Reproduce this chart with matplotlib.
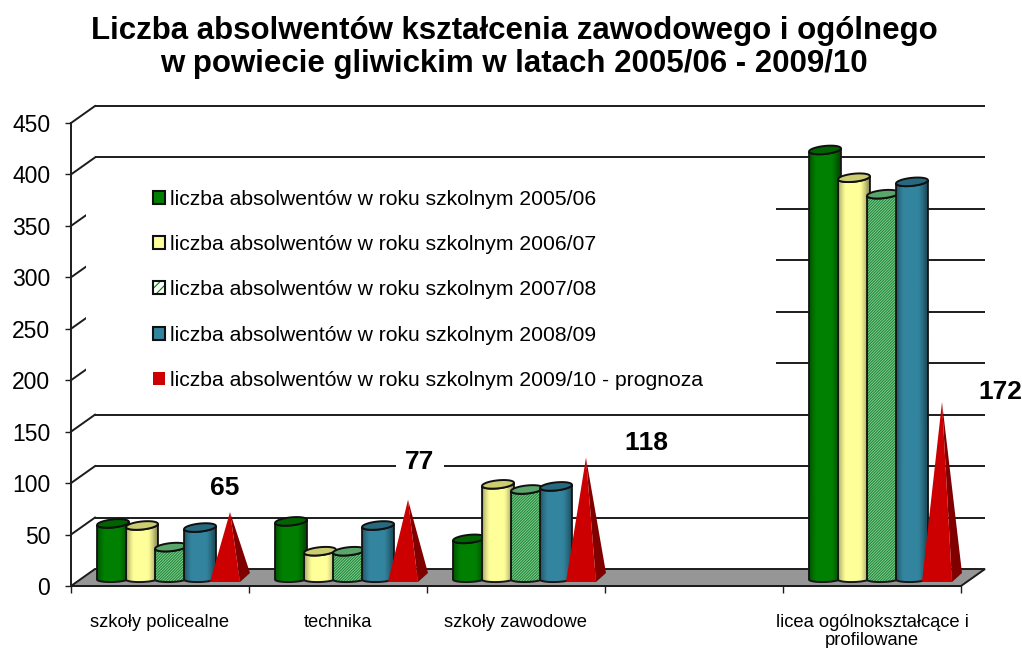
"""Liczba absolwentow - wykres 3D (walce + ostroslupy) w zwyklym matplotlib."""
import matplotlib
matplotlib.use("Agg")
import matplotlib.pyplot as plt
import numpy as np
from matplotlib.colors import to_rgb, to_rgba
from matplotlib.patches import Patch, Polygon, Rectangle

plt.rcParams["font.family"] = ["Liberation Sans", "DejaVu Sans"]
plt.rcParams["hatch.linewidth"] = 0.8
plt.rcParams["text.kerning_factor"] = 6

categories = ["szkoły policealne", "technika", "szkoły zawodowe", "",
              "licea ogólnokształcące i\nprofilowane"]
y_2005 = [54, 56, 39, np.nan, 417]
y_2006 = [52, 27, 92, np.nan, 390]
y_2007 = [31, 27, 87, np.nan, 374]
y_2008 = [50, 52, 90, np.nan, 386]
y_2009 = [65, 77, 118, np.nan, 172]
y_ticks = [0, 50, 100, 150, 200, 250, 300, 350, 400, 450]
legend_labels = [
    "liczba absolwentów w roku szkolnym 2005/06",
    "liczba absolwentów w roku szkolnym 2006/07",
    "liczba absolwentów w roku szkolnym 2007/08",
    "liczba absolwentów w roku szkolnym 2008/09",
    "liczba absolwentów w roku szkolnym 2009/10 - prognoza",
]

W, H = 1022, 648
AX_L, AX_R, AX_T, AX_B = 71, 961, 123, 586
PX_X = (AX_R - AX_L) / 5.0
PX_Y = (AX_B - AX_T) / 450.0
DX, DY = 24 / PX_X, 17 / PX_Y     # glebokosc "sciany"
BASE = 7 / PX_Y                   # podstawa walcow nad przednia krawedzia
LINE = "#1c1c1c"
HATCH_BG = "#8fcf98"

fig = plt.figure(figsize=(W / 100, H / 100), dpi=100)
ax = fig.add_axes([AX_L / W, 1 - AX_B / H, (AX_R - AX_L) / W, (AX_B - AX_T) / H])
ax.set_xlim(0, 5)
ax.set_ylim(0, 450)
ax.patch.set_visible(False)


def ellipse_pts(cx, cy, t, a=16.0, b=4.0, tilt=6.0):
    """Punkty elipsy liczone w pikselach, zwracane w danych."""
    th = np.radians(tilt)
    px = a * np.cos(t) * np.cos(th) - b * np.sin(t) * np.sin(th)
    py = a * np.cos(t) * np.sin(th) + b * np.sin(t) * np.cos(th)
    return np.c_[cx + px / PX_X, cy + py / PX_Y]


def cylinder(x, value, body, top, z, hatch=None):
    t_low = np.linspace(np.pi, 2 * np.pi, 40)
    t_all = np.linspace(0, 2 * np.pi, 80)
    low = ellipse_pts(x, BASE, t_low, b=3.0, tilt=2.0)
    up = ellipse_pts(x, BASE + value, t_low[::-1])
    shape = np.vstack([low, up])
    if hatch:
        ax.add_patch(Polygon(shape, closed=True, fc=HATCH_BG, ec="#1e8a38",
                             hatch=hatch, lw=0, zorder=z, clip_on=False))
    else:
        u = np.linspace(-1, 1, 64)
        shade = (0.62 + 0.38 * np.clip(1.25 - np.abs(u + 0.1) ** 2.2 * 1.5, 0, 1))[None, :, None]
        rgb = np.array(to_rgb(body))[None, None, :] * shade
        a = 16.5 / PX_X
        im = ax.imshow(rgb, extent=(x - a, x + a, 0, BASE + value + 5), aspect="auto",
                       zorder=z, interpolation="bilinear")
        clip = Polygon(shape, closed=True, transform=ax.transData)
        im.set_clip_path(clip)
    ax.add_patch(Polygon(shape, closed=True, fc="none", ec="#161616", lw=1.4,
                         zorder=z + 0.1, clip_on=False))
    ax.add_patch(Polygon(ellipse_pts(x, BASE + value, t_all), closed=True, fc=top,
                         ec="#101010", lw=1.4, zorder=z + 0.2, clip_on=False))


def pyramid(x, value, z):
    # x = wierzcholek; przednia podstawa 20 px w lewo i 10 px w prawo
    left = x - 20 / PX_X
    right = x + 10 / PX_X
    corner = x + 20 / PX_X
    front_y = BASE - 3 / PX_Y
    apex = (x, BASE + value)
    ax.add_patch(Polygon([(right, front_y), (corner, BASE + 6 / PX_Y), apex], closed=True,
                         fc="#800000", ec="none", zorder=z, clip_on=False))
    ax.add_patch(Polygon([(left, front_y), (right, front_y), apex], closed=True,
                         fc="#cc0000", ec="none", zorder=z + 0.1, clip_on=False))


# sciany: linie siatki i skosy
grid_vals = np.array(y_ticks[1:], dtype=float)
ax.hlines(grid_vals + DY, DX, 5 + DX, color=LINE, lw=1.4, zorder=1, clip_on=False)
for v in grid_vals:
    ax.plot([0, DX], [v, v + DY], color=LINE, lw=1.4, zorder=1, clip_on=False)

# podloga
ax.add_patch(Polygon([(0, 0), (5, 0), (5 + DX, DY), (DX, DY)], closed=True, fc="#969696",
                     ec=LINE, lw=1.4, zorder=2, clip_on=False))

# biale tlo legendy zaslania siatke
ax.add_patch(Rectangle((14.5 / PX_X, 191 / PX_Y), 690 / PX_X, 225 / PX_Y, fc="white", ec="none",
                       zorder=3, clip_on=False))

series = [
    (y_2005, "#008000", "#006400", None),
    (y_2006, "#ffff99", "#cccc70", None),
    (y_2007, None, "#5aa66a", "////////////"),
    (y_2008, "#33859f", "#276a80", None),
]
for i in range(len(categories)):
    if np.isnan(y_2009[i]):
        continue
    z = 5.0
    for s, (vals, body, top, hatch) in enumerate(series):
        cylinder(i + (42 + 29 * s) / PX_X, vals[i], body, top, z, hatch)
        z += 1
    pyramid(i + 159 / PX_X, y_2009[i], z)

# etykiety prognozy: przesuniecie w pikselach wzgledem wierzcholka
label_off = [(-5, 24), (12, 38), (60, 15), None, (58, 10)]
for i, off in enumerate(label_off):
    if off is None:
        continue
    box = dict(fc="white", ec="none", pad=7) if i == 1 else None
    ax.annotate(f"{y_2009[i]:.0f}", (i + 159 / PX_X, BASE + y_2009[i]), xytext=off,
                textcoords="offset pixels", ha="center", va="center", fontsize=19,
                fontweight="bold", color="black", bbox=box, zorder=20, annotation_clip=False)

# osie
ax.set_xlim(0, 5)
ax.set_ylim(0, 450)
for name in ("top", "right"):
    ax.spines[name].set_visible(False)
for name in ("left", "bottom"):
    ax.spines[name].set_color(LINE)
    ax.spines[name].set_linewidth(1.4)
    ax.spines[name].set_zorder(4)
ax.set_yticks(y_ticks)
ax.tick_params(axis="y", labelsize=16.5, length=4, width=1, color=LINE, pad=11)
ax.set_xticks(range(6))
ax.set_xticklabels([])
ax.tick_params(axis="x", which="major", length=5, width=1, color=LINE)
ax.set_xticks(np.arange(5) + 0.5, labels=categories, minor=True)
ax.tick_params(axis="x", which="minor", length=0, labelsize=13.2, pad=20.5)
for t in ax.get_xticklabels(minor=True):
    t.set_linespacing(1.02)

handles = [
    Patch(fc="#008000", ec="#101010", lw=1.5),
    Patch(fc="#ffff99", ec="#101010", lw=1.5),
    Patch(fc="white", ec="#101010", lw=1.5, hatch="////"),
    Patch(fc="#33859f", ec="#101010", lw=1.5),
    Patch(fc="#cc0000", ec="none"),
]
leg = ax.legend(handles, legend_labels, loc="upper left", frameon=False, fontsize=15.2,
                bbox_to_anchor=((153 - AX_L) / (AX_R - AX_L), (AX_B - 190) / (AX_B - AX_T)),
                borderpad=0, borderaxespad=0, labelspacing=1.24, handlelength=0.58,
                handleheight=0.58, handletextpad=0.22)
leg.set_zorder(10)
leg.get_patches()[2]._hatch_color = to_rgba("#008000")

fig.text(514 / W, 1 - 47.5 / H, "Liczba absolwentów kształcenia zawodowego i ogólnego\n"
         "w powiecie gliwickim w latach 2005/06 - 2009/10", ha="center", va="center",
         fontsize=22.5, fontweight="bold", linespacing=1.16, color="black")

fig.savefig("out.png", dpi=100)
